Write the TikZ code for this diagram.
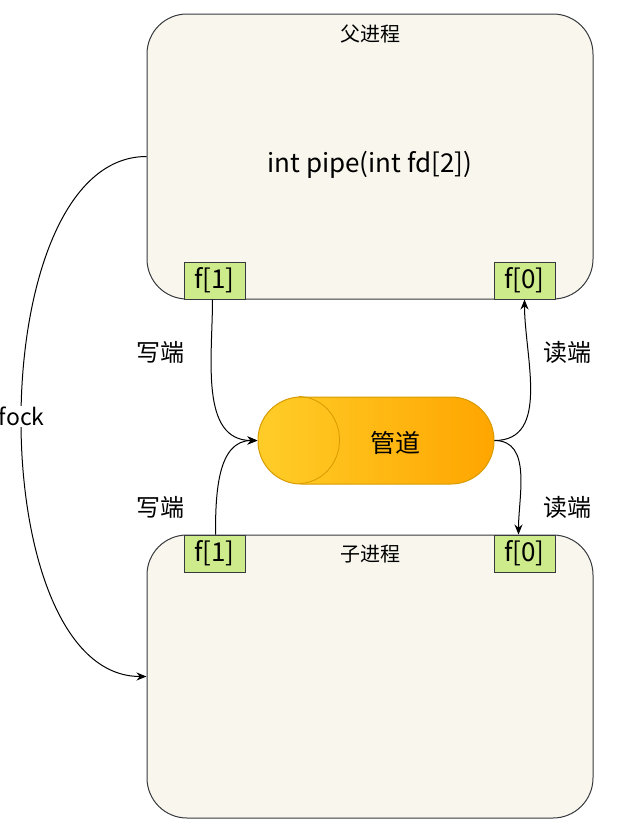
\documentclass[tikz,border=0pt]{standalone}
\usepackage{fontspec}
\setmainfont{Noto Sans CJK SC}
\usepackage{tikz}
\usetikzlibrary{positioning, calc, arrows.meta}

\definecolor{boxfill}{HTML}{F9F7ED}
\definecolor{boxline}{HTML}{36393D}
\definecolor{fdfill}{HTML}{CDEB8B}
\definecolor{pipeleft}{HTML}{FFCD28}
\definecolor{piperight}{HTML}{FFA500}
\definecolor{pipeline}{HTML}{D79B00}

\tikzset{
  procbox/.style={draw=boxline, fill=boxfill, line width=1pt, rounded corners=40pt, minimum width=446pt, inner sep=0pt},
  fdbox/.style={draw=boxline, fill=fdfill, line width=1pt, minimum width=61pt, minimum height=37pt, inner sep=0pt, font=\fontsize{26}{28}\selectfont},
  pipebody/.style={draw=pipeline, left color=pipeleft, right color=piperight, line width=1pt, rounded corners=43pt, minimum width=236pt, minimum height=87pt, inner sep=0pt},
  flow/.style={-{Stealth[length=10pt,width=8pt]}, line width=1pt},
  endlabel/.style={font=\fontsize{24}{26}\selectfont}
}

\begin{document}
\begin{tikzpicture}[x=1pt,y=-1pt]
        \useasboundingbox (0,0) rectangle (627,839);

        % 1. Processes
        \node[procbox, minimum height=285pt] (parent) at (370,156.5) {};
        \node[procbox, minimum height=283pt] (child) at (370,676.5) {};
        \node[font=\fontsize{20}{22}\selectfont] (ptitle) at ([yshift=-20pt]parent.north) {父进程};
        \node[font=\fontsize{20}{22}\selectfont] (ctitle) at ([yshift=-20pt]child.north) {子进程};
        \node[font=\fontsize{26}{28}\selectfont] (call) at (370,165) {int pipe(int fd[2])};

        % 2. File descriptors
        \node[fdbox] (pf1) at (214.5,280.5) {f[1]};
        \node[fdbox] (pf0) at (524.5,280.5) {f[0]};
        \node[fdbox] (cf1) at (214.5,553.5) {f[1]};
        \node[fdbox] (cf0) at (524.5,553.5) {f[0]};

        % 3. Pipe
        \node[pipebody] (pipe) at (376,440.5) {};
        \draw[pipeline, line width=0.8pt] ($(pipe.north west)+(41,0)$) arc[start angle=90, end angle=-90, x radius=41pt, y radius=43.5pt];
        \node[font=\fontsize{25}{27}\selectfont] (pipetext) at ([xshift=19pt,yshift=-2pt]pipe.center) {管道};

        % 4. Read / write ends
        \draw[flow] ([xshift=-2pt]pf1.south) to[out=-90,in=180] (pipe.west);
        \draw[flow] ([xshift=1pt]cf1.north) to[out=90,in=180] (pipe.west);
        \draw[flow] (pipe.east) to[out=0,in=-90] (pf0.south);
        \draw[flow] (pipe.east) to[out=0,in=90] ([xshift=-6pt]cf0.north);
        \node[endlabel] (w1) at (160,352) {写端};
        \node[endlabel] (w2) at (160,507) {写端};
        \node[endlabel] (r1) at (567,352) {读端};
        \node[endlabel] (r2) at (567,507) {读端};

        % 5. fock
        \draw[flow] (parent.west) to[out=180,in=180,looseness=0.82]
            node[midway, fill=white, inner sep=1pt, font=\fontsize{23}{25}\selectfont] (forklabel) {fock} (child.west);

    \end{tikzpicture}
\end{document}
